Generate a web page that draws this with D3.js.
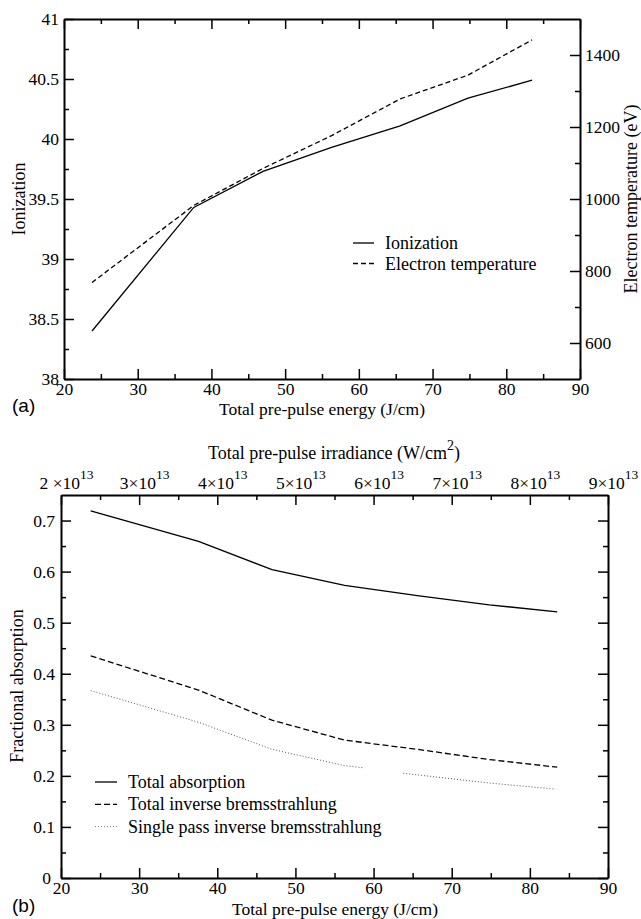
<!DOCTYPE html>
<html>
<head>
<meta charset="utf-8">
<script src="https://cdn.jsdelivr.net/npm/d3@7"></script>
<style>
body { margin: 0; background: #fff; }
</style>
</head>
<body>
<svg id="fig" width="641" height="919"></svg>
<script>
// pre-pulse energy (J/cm) where each run was done
const energy = [23.8, 37.6, 47, 56.3, 65.6, 74.8, 83.5];

// panel (a)
const ionization = [38.4, 39.43, 39.73, 39.93, 40.11, 40.34, 40.49];
const electronTemp = [768, 982, 1085, 1176, 1278, 1344, 1442];
const legendA = ["Ionization", "Electron temperature"];

// panel (b)
const totalAbs = [0.719, 0.659, 0.604, 0.573, 0.553, 0.535, 0.521];
const totalIB = [0.435, 0.368, 0.309, 0.270, 0.252, 0.232, 0.217];
// the dotted curve is broken between ~58.6 and ~63.8 in the original
const singleEnergy = [23.8, 37.6, 47, 56.3, 58.6, null, 63.8, 65.6, 74.8, 83.3];
const singlePass = [0.367, 0.305, 0.252, 0.220, 0.216, null, 0.205, 0.202, 0.186, 0.174];
const legendB = ["Total absorption", "Total inverse bremsstrahlung", "Single pass inverse bremsstrahlung"];

// tick values
const energyTicks = [20, 30, 40, 50, 60, 70, 80, 90];
const energyMinor = [25, 35, 45, 55, 65, 75, 85];
const ionTicks = [38, 38.5, 39, 39.5, 40, 40.5, 41];
const ionMinor = [38.25, 38.75, 39.25, 39.75, 40.25, 40.75];
const tempTicks = [600, 800, 1000, 1200, 1400];
const tempMinor = [700, 900, 1100, 1300];
const fracTicks = [0, 0.1, 0.2, 0.3, 0.4, 0.5, 0.6, 0.7];
const fracMinor = [0.05, 0.15, 0.25, 0.35, 0.45, 0.55, 0.65];
const irrTicks = [2e13, 3e13, 4e13, 5e13, 6e13, 7e13, 8e13, 9e13];
const irrMinor = [2.5e13, 3.5e13, 4.5e13, 5.5e13, 6.5e13, 7.5e13, 8.5e13];

const serif = "Liberation Serif, Times New Roman, serif";
const sans = "Liberation Sans, Arial, sans-serif";

const svg = d3.select("#fig");

// draw one axis plus its minor ticks, all ticks pointing inward
function drawAxis(make, pos, major, minor, fmt, pad) {
  const g = svg.append("g").attr("transform", pos)
    .call(make().tickValues(major).tickSizeInner(-10).tickSizeOuter(0).tickPadding(pad).tickFormat(fmt));
  g.attr("font-family", serif).attr("font-size", 17.5);
  g.select(".domain").attr("stroke-width", 2);
  g.selectAll(".tick line").attr("stroke-width", 1.5);
  g.selectAll(".tick text").attr("fill", "#000")
    .style("font-family", serif).style("font-size", "17.5px");
  const m = svg.append("g").attr("transform", pos)
    .call(make().tickValues(minor).tickSizeInner(-5).tickSizeOuter(0).tickFormat(""));
  m.select(".domain").remove();
  m.selectAll(".tick line").attr("stroke-width", 1.5);
  return g;
}

const fmtNum = d3.format("~g");

// ---------- panel (a) ----------
const xA = d3.scaleLinear().domain([20, 90]).range([64, 580]);
const yA = d3.scaleLinear().domain([38, 41]).range([379, 19]);
const yT = d3.scaleLinear().domain([500, 1500]).range([379, 19]);

drawAxis(() => d3.axisBottom(xA), "translate(0,379)", energyTicks, energyMinor, fmtNum, 4);
drawAxis(() => d3.axisTop(xA), "translate(0,19)", energyTicks, energyMinor, "", 6);
drawAxis(() => d3.axisLeft(yA), "translate(64,0)", ionTicks, ionMinor, fmtNum, 5);
drawAxis(() => d3.axisRight(yT), "translate(580,0)", tempTicks, tempMinor, fmtNum, 5);

const lineIon = d3.line().x((d, i) => xA(energy[i])).y(d => yA(d));
const lineTemp = d3.line().x((d, i) => xA(energy[i])).y(d => yT(d));

svg.append("path").datum(ionization).attr("d", lineIon)
  .attr("fill", "none").attr("stroke", "#000").attr("stroke-width", 1.3);
svg.append("path").datum(electronTemp).attr("d", lineTemp)
  .attr("fill", "none").attr("stroke", "#000").attr("stroke-width", 1.3)
  .attr("stroke-dasharray", "5,3");

const dashA = [null, "5,3"];
legendA.forEach((name, i) => {
  const y = 243 + i * 20.5;
  svg.append("line").attr("x1", 353).attr("x2", 374).attr("y1", y).attr("y2", y)
    .attr("stroke", "#000").attr("stroke-width", 1.3).attr("stroke-dasharray", dashA[i]);
  svg.append("text").attr("x", 385).attr("y", y + 6).attr("font-family", serif)
    .attr("font-size", 18).text(name);
});

svg.append("text").attr("transform", "translate(25,199) rotate(-90)")
  .attr("text-anchor", "middle").attr("font-family", serif).attr("font-size", 18).text("Ionization");
svg.append("text").attr("transform", "translate(637,199) rotate(-90)")
  .attr("text-anchor", "middle").attr("font-family", serif).attr("font-size", 18).text("Electron temperature (eV)");
svg.append("text").attr("x", 322).attr("y", 415).attr("text-anchor", "middle")
  .attr("font-family", serif).attr("font-size", 17.5).text("Total pre-pulse energy (J/cm)");
svg.append("text").attr("x", 12).attr("y", 412).attr("font-family", sans)
  .attr("font-size", 19).text("(a)");

// ---------- panel (b) ----------
const xB = d3.scaleLinear().domain([20, 90]).range([61, 608]);
const xI = d3.scaleLinear().domain([2e13, 9e13]).range([61, 608]);
const yB = d3.scaleLinear().domain([0, 0.75]).range([878, 495]);

drawAxis(() => d3.axisBottom(xB), "translate(0,878)", energyTicks, energyMinor, fmtNum, 4);
const leftB = drawAxis(() => d3.axisLeft(yB), "translate(61,0)", fracTicks, fracMinor, fmtNum, 6);
drawAxis(() => d3.axisRight(yB), "translate(608,0)", fracTicks, fracMinor, "", 6);
const topAx = drawAxis(() => d3.axisTop(xI), "translate(0,495)", irrTicks, irrMinor, "", 6);

// nudge the "0" so it doesn't sit on top of the "20" below it
leftB.selectAll(".tick text").filter(d => d === 0).attr("x", -10);

topAx.selectAll(".tick text").each(function(d) {
  const n = Math.round(d / 1e13);
  const t = d3.select(this).attr("x", 5);
  t.append("tspan").text((n === 2 ? n + " " : n) + "×10");
  t.append("tspan").attr("dy", -10).style("font-size", "13.5px").text("13");
});

const lineB = d3.line().x((d, i) => xB(energy[i])).y(d => yB(d));
const lineSingle = d3.line()
  .defined((d, i) => d !== null && singleEnergy[i] !== null)
  .x((d, i) => xB(singleEnergy[i])).y(d => yB(d));

svg.append("path").datum(totalAbs).attr("d", lineB)
  .attr("fill", "none").attr("stroke", "#000").attr("stroke-width", 1.3);
svg.append("path").datum(totalIB).attr("d", lineB)
  .attr("fill", "none").attr("stroke", "#000").attr("stroke-width", 1.3)
  .attr("stroke-dasharray", "6,3");
svg.append("path").datum(singlePass).attr("d", lineSingle)
  .attr("fill", "none").attr("stroke", "#555").attr("stroke-width", 1)
  .attr("stroke-dasharray", "1,2");

const dashB = [null, "6,3", "1,2"];
const colB = ["#000", "#000", "#777"];
legendB.forEach((name, i) => {
  const y = 782 + i * 22.3;
  svg.append("line").attr("x1", 95).attr("x2", 117).attr("y1", y).attr("y2", y)
    .attr("stroke", colB[i]).attr("stroke-width", i === 2 ? 1 : 1.3)
    .attr("stroke-dasharray", dashB[i]);
  svg.append("text").attr("x", 128).attr("y", y + 6).attr("font-family", serif)
    .attr("font-size", 18).text(name);
});

svg.append("text").attr("transform", "translate(23,686) rotate(-90)")
  .attr("text-anchor", "middle").attr("font-family", serif).attr("font-size", 18).text("Fractional absorption");
svg.append("text").attr("x", 335).attr("y", 914.5).attr("text-anchor", "middle")
  .attr("font-family", serif).attr("font-size", 17.5).text("Total pre-pulse energy (J/cm)");
const irrTitle = svg.append("text").attr("x", 334).attr("y", 459).attr("text-anchor", "middle")
  .attr("font-family", serif).attr("font-size", 18);
irrTitle.append("tspan").text("Total pre-pulse irradiance (W/cm");
irrTitle.append("tspan").attr("dy", -9).attr("font-size", 14).text("2");
irrTitle.append("tspan").attr("dy", 9).text(")");
svg.append("text").attr("x", 12).attr("y", 912).attr("font-family", sans)
  .attr("font-size", 19).text("(b)");
</script>
</body>
</html>
